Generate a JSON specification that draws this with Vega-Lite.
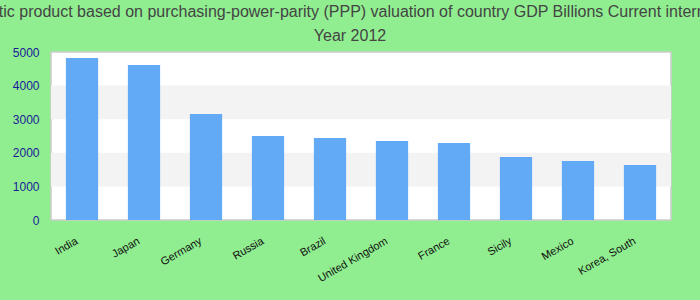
{
  "$schema": "https://vega.github.io/schema/vega-lite/v6.json",
  "width": 620,
  "height": 168,
  "autosize": {"type": "none"},
  "padding": {"left": 51, "top": 52, "right": 29, "bottom": 80},
  "background": "#90EE90",
  "title": {
    "text": ["Gross domestic product based on purchasing-power-parity (PPP) valuation of country GDP Billions Current international dollar", "Year 2012"],
    "font": "Liberation Sans",
    "fontSize": 16,
    "fontWeight": "normal",
    "color": "#444444",
    "anchor": "middle",
    "lineHeight": 24,
    "dx": -11,
    "offset": 2
  },
  "config": {
    "view": {"stroke": "#cccccc", "strokeWidth": 1.5, "fill": "white"},
    "font": "Liberation Sans"
  },
  "layer": [
    {
      "data": {"values": [{"lo": 1000, "hi": 2000}, {"lo": 3000, "hi": 4000}]},
      "mark": {"type": "rect", "color": "#f3f3f3"},
      "encoding": {
        "y": {
          "field": "lo", "type": "quantitative",
          "scale": {"domain": [0, 5000], "nice": false},
          "axis": {"title": null, "grid": false, "domain": false, "ticks": false, "values": [0, 1000, 2000, 3000, 4000, 5000], "labelColor": "#1a1a99", "labelFontSize": 12, "labelPadding": 12, "format": "d", "labelOverlap": false}
        },
        "y2": {"field": "hi"}
      }
    },
    {
      "data": {"values": [
        {"country": "India", "gdp": 4821},
        {"country": "Japan", "gdp": 4613},
        {"country": "Germany", "gdp": 3155},
        {"country": "Russia", "gdp": 2500},
        {"country": "Brazil", "gdp": 2440},
        {"country": "United Kingdom", "gdp": 2351},
        {"country": "France", "gdp": 2292},
        {"country": "Sicily", "gdp": 1875},
        {"country": "Mexico", "gdp": 1756},
        {"country": "Korea, South", "gdp": 1637}
      ]},
      "mark": {"type": "bar", "color": "#62aaf5"},
      "encoding": {
        "x": {
          "field": "country", "type": "nominal", "sort": null,
          "scale": {"paddingInner": 0.48, "paddingOuter": 0.24},
          "axis": {"title": null, "labelAngle": -30, "labelAlign": "right", "labelBaseline": "middle", "labelFontSize": 11, "labelColor": "#111111", "domain": false, "ticks": false, "labelPadding": 20, "labelOffset": -5, "labelOverlap": false}
        },
        "y": {
          "field": "gdp", "type": "quantitative",
          "scale": {"domain": [0, 5000], "nice": false},
          "axis": {"title": null, "grid": false, "domain": false, "ticks": false, "values": [0, 1000, 2000, 3000, 4000, 5000], "labelColor": "#1a1a99", "labelFontSize": 12, "labelPadding": 12, "format": "d", "labelOverlap": false}
        }
      }
    }
  ]
}
